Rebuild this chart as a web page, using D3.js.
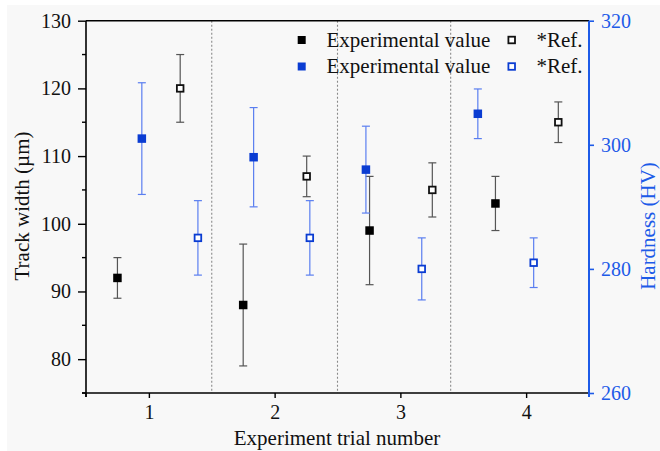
<!DOCTYPE html>
<html>
<head>
<meta charset="utf-8">
<script src="https://cdn.jsdelivr.net/npm/d3@7"></script>
<style>
  html, body { margin: 0; padding: 0; background: #ffffff; }
  svg { display: block; }
</style>
</head>
<body>
<svg id="chart" width="660" height="451" font-family="'Liberation Serif', 'Times New Roman', Times, serif"></svg>
<script>
// Trials and where each series sits along the trial axis
const trials = [1, 2, 3, 4];
const trackExpX = [0.75, 1.75, 2.755, 3.756];
const hardExpX = [0.944, 1.833, 2.726, 3.616];
const trackRefX = [1.249, 2.255, 3.254, 4.256];
const hardRefX = [1.39, 2.28, 3.17, 4.06];
const dividers = [1.5, 2.5, 3.4];

// Track width (µm), left axis
const trackExp = [92, 88, 99, 103];
const trackExpErr = [3, 9, 8, 4];
const trackRef = [120, 107, 105, 115];
const trackRefErr = [5, 3, 4, 3];

// Hardness (HV), right axis
const hardExp = [301, 298, 296, 305];
const hardExpErr = [9, 8, 7, 4];
const hardRef = [285, 285, 280, 281];
const hardRefErr = [6, 6, 5, 4];

// Tick values
const leftTicks = [80, 90, 100, 110, 120, 130];
const leftMinor = [75, 85, 95, 105, 115, 125];
const rightTicks = [260, 280, 300, 320];

const FONT = "'Liberation Serif', 'Times New Roman', Times, serif";
const BLACK = "#000000";
const BLACK_ERR = "#555555";
const BLUE = "#0a3cd2";
const BLUE_ERR = "#5a7ef0";
const AXIS_BLUE = "#1d5be8";

const svg = d3.select("#chart");
svg.append("rect").attr("x", 7).attr("y", 5).attr("width", 653).attr("height", 446).attr("fill", "#f8f8f8");

const L = 86, R = 589, T = 20.7, B = 393;
const x = d3.scaleLinear().domain([0.5, 4.5]).range([L, R]);
const yL = d3.scaleLinear().domain([75, 130]).range([B, T]);
const yR = d3.scaleLinear().domain([260, 320]).range([B, T]);

// Dotted separators between trials
svg.append("g").selectAll("line").data(dividers).join("line")
  .attr("x1", d => x(d)).attr("x2", d => x(d))
  .attr("y1", T).attr("y2", B)
  .attr("stroke", "#8a8a8a").attr("stroke-width", 1.1).attr("stroke-dasharray", "2,2");

// Frame: top border
svg.append("line").attr("x1", L).attr("x2", R).attr("y1", T).attr("y2", T)
  .attr("stroke", BLACK).attr("stroke-width", 1.4);

// Bottom axis
const xAxis = d3.axisBottom(x).tickValues(trials).tickFormat(d3.format("d")).tickSize(5).tickPadding(7);
const gx = svg.append("g").attr("transform", `translate(0,${B})`).call(xAxis);
gx.select(".domain").attr("stroke-width", 1.6).attr("d", `M${L - 4},0H${R}`);
gx.selectAll(".tick line").attr("stroke-width", 1.4);
gx.selectAll("text").attr("font-family", FONT).attr("font-size", 20).attr("fill", "#111");
gx.append("g").selectAll("line").data([0.5, 4.5]).join("line")
  .attr("x1", d => x(d)).attr("x2", d => x(d)).attr("y1", 0).attr("y2", 4)
  .attr("stroke", BLACK).attr("stroke-width", 1.4);

// Left axis
const gl = svg.append("g").attr("transform", `translate(${L},0)`)
  .call(d3.axisLeft(yL).tickValues(leftTicks).tickSize(8).tickPadding(7));
gl.select(".domain").attr("stroke-width", 1.6).attr("d", `M0,${T}V${B + 4}`);
gl.selectAll(".tick line").attr("stroke-width", 1.4);
gl.selectAll("text").attr("font-family", FONT).attr("font-size", 20).attr("fill", "#111");
gl.append("g").selectAll("line").data(leftMinor).join("line")
  .attr("x1", -4).attr("x2", 0).attr("y1", d => yL(d)).attr("y2", d => yL(d))
  .attr("stroke", BLACK).attr("stroke-width", 1.4);

// Right axis
const gr = svg.append("g").attr("transform", `translate(${R},0)`)
  .call(d3.axisRight(yR).tickValues(rightTicks).tickSize(5).tickPadding(7));
gr.select(".domain").attr("stroke", AXIS_BLUE).attr("stroke-width", 2).attr("d", `M0,${T}V${B + 4}`);
gr.selectAll(".tick line").attr("stroke", AXIS_BLUE).attr("stroke-width", 1.6);
gr.selectAll("text").attr("font-family", FONT).attr("font-size", 20).attr("fill", AXIS_BLUE);

// Axis titles
svg.append("text").attr("x", 337).attr("y", 445).attr("text-anchor", "middle")
  .attr("font-family", FONT).attr("font-size", 21).attr("fill", "#111").text("Experiment trial number");
svg.append("text").attr("transform", `translate(29,206) rotate(-90)`)
  .attr("text-anchor", "middle").attr("font-family", FONT).attr("font-size", 21).attr("fill", "#111").text("Track width (µm)");
svg.append("text").attr("transform", `translate(655,226) rotate(-90)`)
  .attr("text-anchor", "middle").attr("font-family", FONT).attr("font-size", 21).attr("fill", AXIS_BLUE).text("Hardness (HV)");

// Error bars + square markers
function series(xs, vals, errs, yScale, color, errColor, open) {
  const g = svg.append("g");
  const rows = xs.map((xv, i) => ({ xv, v: vals[i], e: errs[i] }));
  const eb = g.selectAll("g.eb").data(rows).join("g");
  eb.append("line").attr("x1", d => x(d.xv)).attr("x2", d => x(d.xv))
    .attr("y1", d => yScale(d.v + d.e)).attr("y2", d => yScale(d.v - d.e))
    .attr("stroke", errColor).attr("stroke-width", 1.2);
  [1, -1].forEach(s => {
    eb.append("line").attr("x1", d => x(d.xv) - 4).attr("x2", d => x(d.xv) + 4)
      .attr("y1", d => yScale(d.v + s * d.e)).attr("y2", d => yScale(d.v + s * d.e))
      .attr("stroke", errColor).attr("stroke-width", 1.2);
  });
  const sz = open ? 6.6 : 8.5;
  g.selectAll("rect").data(rows).join("rect")
    .attr("x", d => x(d.xv) - sz / 2).attr("y", d => yScale(d.v) - sz / 2)
    .attr("width", sz).attr("height", sz)
    .attr("fill", open ? "#ffffff" : color)
    .attr("stroke", open ? color : "none").attr("stroke-width", open ? 1.8 : 0);
}
series(trackExpX, trackExp, trackExpErr, yL, BLACK, BLACK_ERR, false);
series(hardExpX, hardExp, hardExpErr, yR, BLUE, BLUE_ERR, false);
series(trackRefX, trackRef, trackRefErr, yL, "#111", BLACK_ERR, true);
series(hardRefX, hardRef, hardRefErr, yR, BLUE, BLUE_ERR, true);

// Legend
const legendRows = [
  { color: BLACK, label: "Experimental value", ref: "*Ref.", cy: 40 },
  { color: BLUE, label: "Experimental value", ref: "*Ref.", cy: 66.5 }
];
const lg = svg.append("g");
legendRows.forEach(r => {
  lg.append("rect").attr("x", 301.7 - 4).attr("y", r.cy - 4).attr("width", 8).attr("height", 8).attr("fill", r.color);
  lg.append("text").attr("x", 326.5).attr("y", r.cy + 6.5).attr("font-family", FONT).attr("font-size", 21).attr("fill", "#111").text(r.label);
  lg.append("rect").attr("x", 511.7 - 3.3).attr("y", r.cy - 3.3).attr("width", 6.6).attr("height", 6.6)
    .attr("fill", "#fff").attr("stroke", r.color === BLACK ? "#111" : BLUE).attr("stroke-width", 1.8);
  lg.append("text").attr("x", 536.5).attr("y", r.cy + 6.5).attr("font-family", FONT).attr("font-size", 21).attr("fill", "#111").text(r.ref);
});
</script>
</body>
</html>
